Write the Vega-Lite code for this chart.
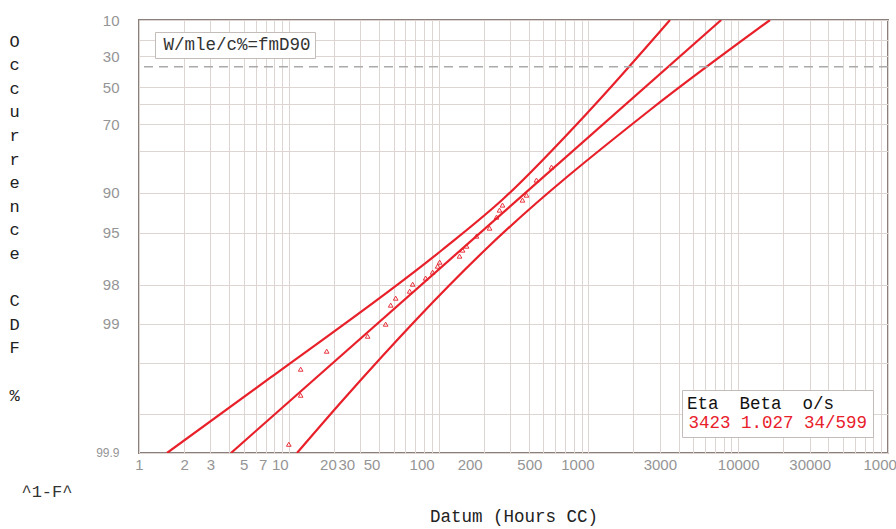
{
  "$schema": "https://vega.github.io/schema/vega-lite/v6.json",
  "width": 749,
  "height": 433,
  "autosize": "none",
  "padding": {"left": 139, "top": 20, "right": 8, "bottom": 76},
  "background": "white",
  "config": {
    "view": {"stroke": "#8b7f7b", "strokeWidth": 2},
    "axis": {"domain": false, "ticks": false, "gridColor": "#dcd5d2", "gridWidth": 1, "gridOpacity": 1,
             "labelFont": "Liberation Sans", "labelColor": "#959595", "labelFontSize": 15,
             "titleFont": "Liberation Mono", "titleFontWeight": "normal", "titleColor": "#222", "titleFontSize": 17.5,
             "labelOverlap": false, "labelBound": false, "labelFlush": false, "tickCount": 60}
  },
  "datasets": {
    "lines": [
      {"series": "upper", "hours": 1.538, "z": -6.907},
      {"series": "upper", "hours": 7.49, "z": -5.566},
      {"series": "upper", "hours": 105.4, "z": -3.278},
      {"series": "upper", "hours": 265, "z": -2.384},
      {"series": "upper", "hours": 1025, "z": -0.775},
      {"series": "upper", "hours": 3505, "z": 0.834},
      {"series": "fit", "hours": 4.11, "z": -6.907},
      {"series": "fit", "hours": 7700, "z": 0.834},
      {"series": "lower", "hours": 11.34, "z": -6.907},
      {"series": "lower", "hours": 23.0, "z": -5.959},
      {"series": "lower", "hours": 204, "z": -3.278},
      {"series": "lower", "hours": 2578, "z": -0.775},
      {"series": "lower", "hours": 16310, "z": 0.834}
    ],
    "points": [
      {"hours": 10.0, "z": -6.751},
      {"hours": 12.0, "z": -5.874},
      {"hours": 12.0, "z": -5.409},
      {"hours": 17.9, "z": -5.087},
      {"hours": 33.6, "z": -4.819},
      {"hours": 44.3, "z": -4.604},
      {"hours": 47.9, "z": -4.264},
      {"hours": 51.7, "z": -4.139},
      {"hours": 64.1, "z": -4.014},
      {"hours": 67.1, "z": -3.889},
      {"hours": 81.9, "z": -3.781},
      {"hours": 91.2, "z": -3.674},
      {"hours": 98.5, "z": -3.567},
      {"hours": 101.6, "z": -3.495},
      {"hours": 138, "z": -3.388},
      {"hours": 144.5, "z": -3.28},
      {"hours": 153.7, "z": -3.209},
      {"hours": 179, "z": -3.03},
      {"hours": 218.8, "z": -2.887},
      {"hours": 243.6, "z": -2.69},
      {"hours": 255, "z": -2.565},
      {"hours": 267, "z": -2.475},
      {"hours": 363, "z": -2.386},
      {"hours": 386, "z": -2.297},
      {"hours": 450, "z": -2.028},
      {"hours": 567, "z": -1.796}
    ]
  },
  "layer": [
    {
      "data": {"name": "lines"},
      "mark": {"type": "line", "color": "#e8202a", "strokeWidth": 2.2, "clip": true, "interpolate": "monotone"},
      "encoding": {
        "x": {"field": "hours", "type": "quantitative",
              "scale": {"type": "log", "domain": [1, 100000], "nice": false},
              "axis": {"title": "Datum (Hours CC)", "titlePadding": 35, "labelPadding": 4,
                       "values": [1,2,3,4,5,6,7,8,9,10,20,30,40,50,60,70,80,90,100,200,300,400,500,600,700,800,900,1000,2000,3000,4000,5000,6000,7000,8000,9000,10000,20000,30000,40000,50000,60000,70000,80000,90000,100000],
                       "labelOffset": {"expr": "datum.value == 7 ? -3 : datum.value == 10 ? -9 : datum.value == 20 ? -6 : datum.value == 30 ? -14 : datum.value == 50 ? -22 : datum.value == 100 ? -17 : datum.value == 200 ? -14 : datum.value == 500 ? -14 : datum.value == 1000 ? -11 : 0"},
                       "labelExpr": "indexof([1,2,3,5,7,10,20,30,50,100,200,500,1000,3000,10000,30000,100000], datum.value) >= 0 ? format(datum.value, 'd') : ''"}},
        "y": {"field": "z", "type": "quantitative",
              "scale": {"domain": [-6.90726, 0.83404], "nice": false, "zero": false},
              "axis": {"title": ["O","c","c","u","r","r","e","n","c","e","\u2800","C","D","F","\u2800","%"],
                       "titleAngle": 0, "titleAlign": "center", "titleBaseline": "top",
                       "titleX": -125, "titleY": 13, "titleLineHeight": 23.6, "titleFontSize": 17,
                       "labelPadding": 20,
                       "values": [0.834032, 0.475885, 0.185627, -0.366513, -0.671727, -1.03093, -1.49994, -2.250367, -2.970195, -3.901939, -4.600149, -5.295812, -6.213607, -6.907255],
                       "labelFontSize": {"condition": {"test": "datum.value < -6.5", "value": 12}, "value": 15},
                       "labelExpr": "indexof([834,186,-367,-1031,-2250,-2970,-3902,-4600,-6907], round(datum.value*1000)) >= 0 ? format(100*exp(-exp(datum.value)), '.3~r') : ''"}},
        "detail": {"field": "series"},
        "color": {"datum": "3423 1.027 34/599", "scale": {"range": ["#e8202a"]},
                  "legend": {"title": "Eta\u00a0 Beta\u00a0 o/s", "orient": "none", "legendX": 543, "legendY": 370,
                             "titleFont": "Liberation Mono", "titleFontSize": 17.5, "titleFontWeight": "normal", "titleColor": "#111",
                             "labelFont": "Liberation Mono", "labelFontSize": 17.5, "labelColor": "#e8202a",
                             "symbolSize": 0.01, "symbolStrokeWidth": 0, "symbolOpacity": 0, "labelOffset": -16,
                             "padding": 5, "strokeColor": "#c4bcb9", "fillColor": "white", "titlePadding": 2,
                             "labelLimit": 400, "titleLimit": 400}}
      }
    },
    {
      "data": {"values": [{"z": 0}]},
      "mark": {"type": "rule", "color": "#aaaaaa", "strokeDash": [9, 6], "strokeWidth": 1.5},
      "encoding": {"y": {"field": "z", "type": "quantitative"}}
    },
    {
      "data": {"name": "points"},
      "mark": {"type": "point", "filled": false, "color": "#e8202a", "size": 22, "strokeWidth": 1, "opacity": 0.9},
      "encoding": {
        "x": {"field": "hours", "type": "quantitative"},
        "y": {"field": "z", "type": "quantitative"},
        "shape": {"datum": "W/mle/c%=fmD90", "scale": {"range": ["triangle-up"]},
                  "legend": {"title": null, "orient": "none", "legendX": 16, "legendY": 12,
                             "labelFont": "Liberation Mono", "labelFontSize": 17.5, "labelColor": "#333",
                             "symbolSize": 0.01, "symbolStrokeWidth": 0, "symbolOpacity": 0, "labelOffset": -13,
                             "padding": 4, "strokeColor": "#c4bcb9", "fillColor": "white", "labelLimit": 400}}
      }
    },
    {
      "data": {"values": [{"label": "^1-F^"}]},
      "mark": {"type": "text", "font": "Liberation Mono", "fontSize": 17, "color": "#333", "clip": false},
      "encoding": {
        "x": {"datum": 0.243, "type": "quantitative"},
        "y": {"datum": -7.604, "type": "quantitative"},
        "text": {"field": "label"}
      }
    }
  ]
}
